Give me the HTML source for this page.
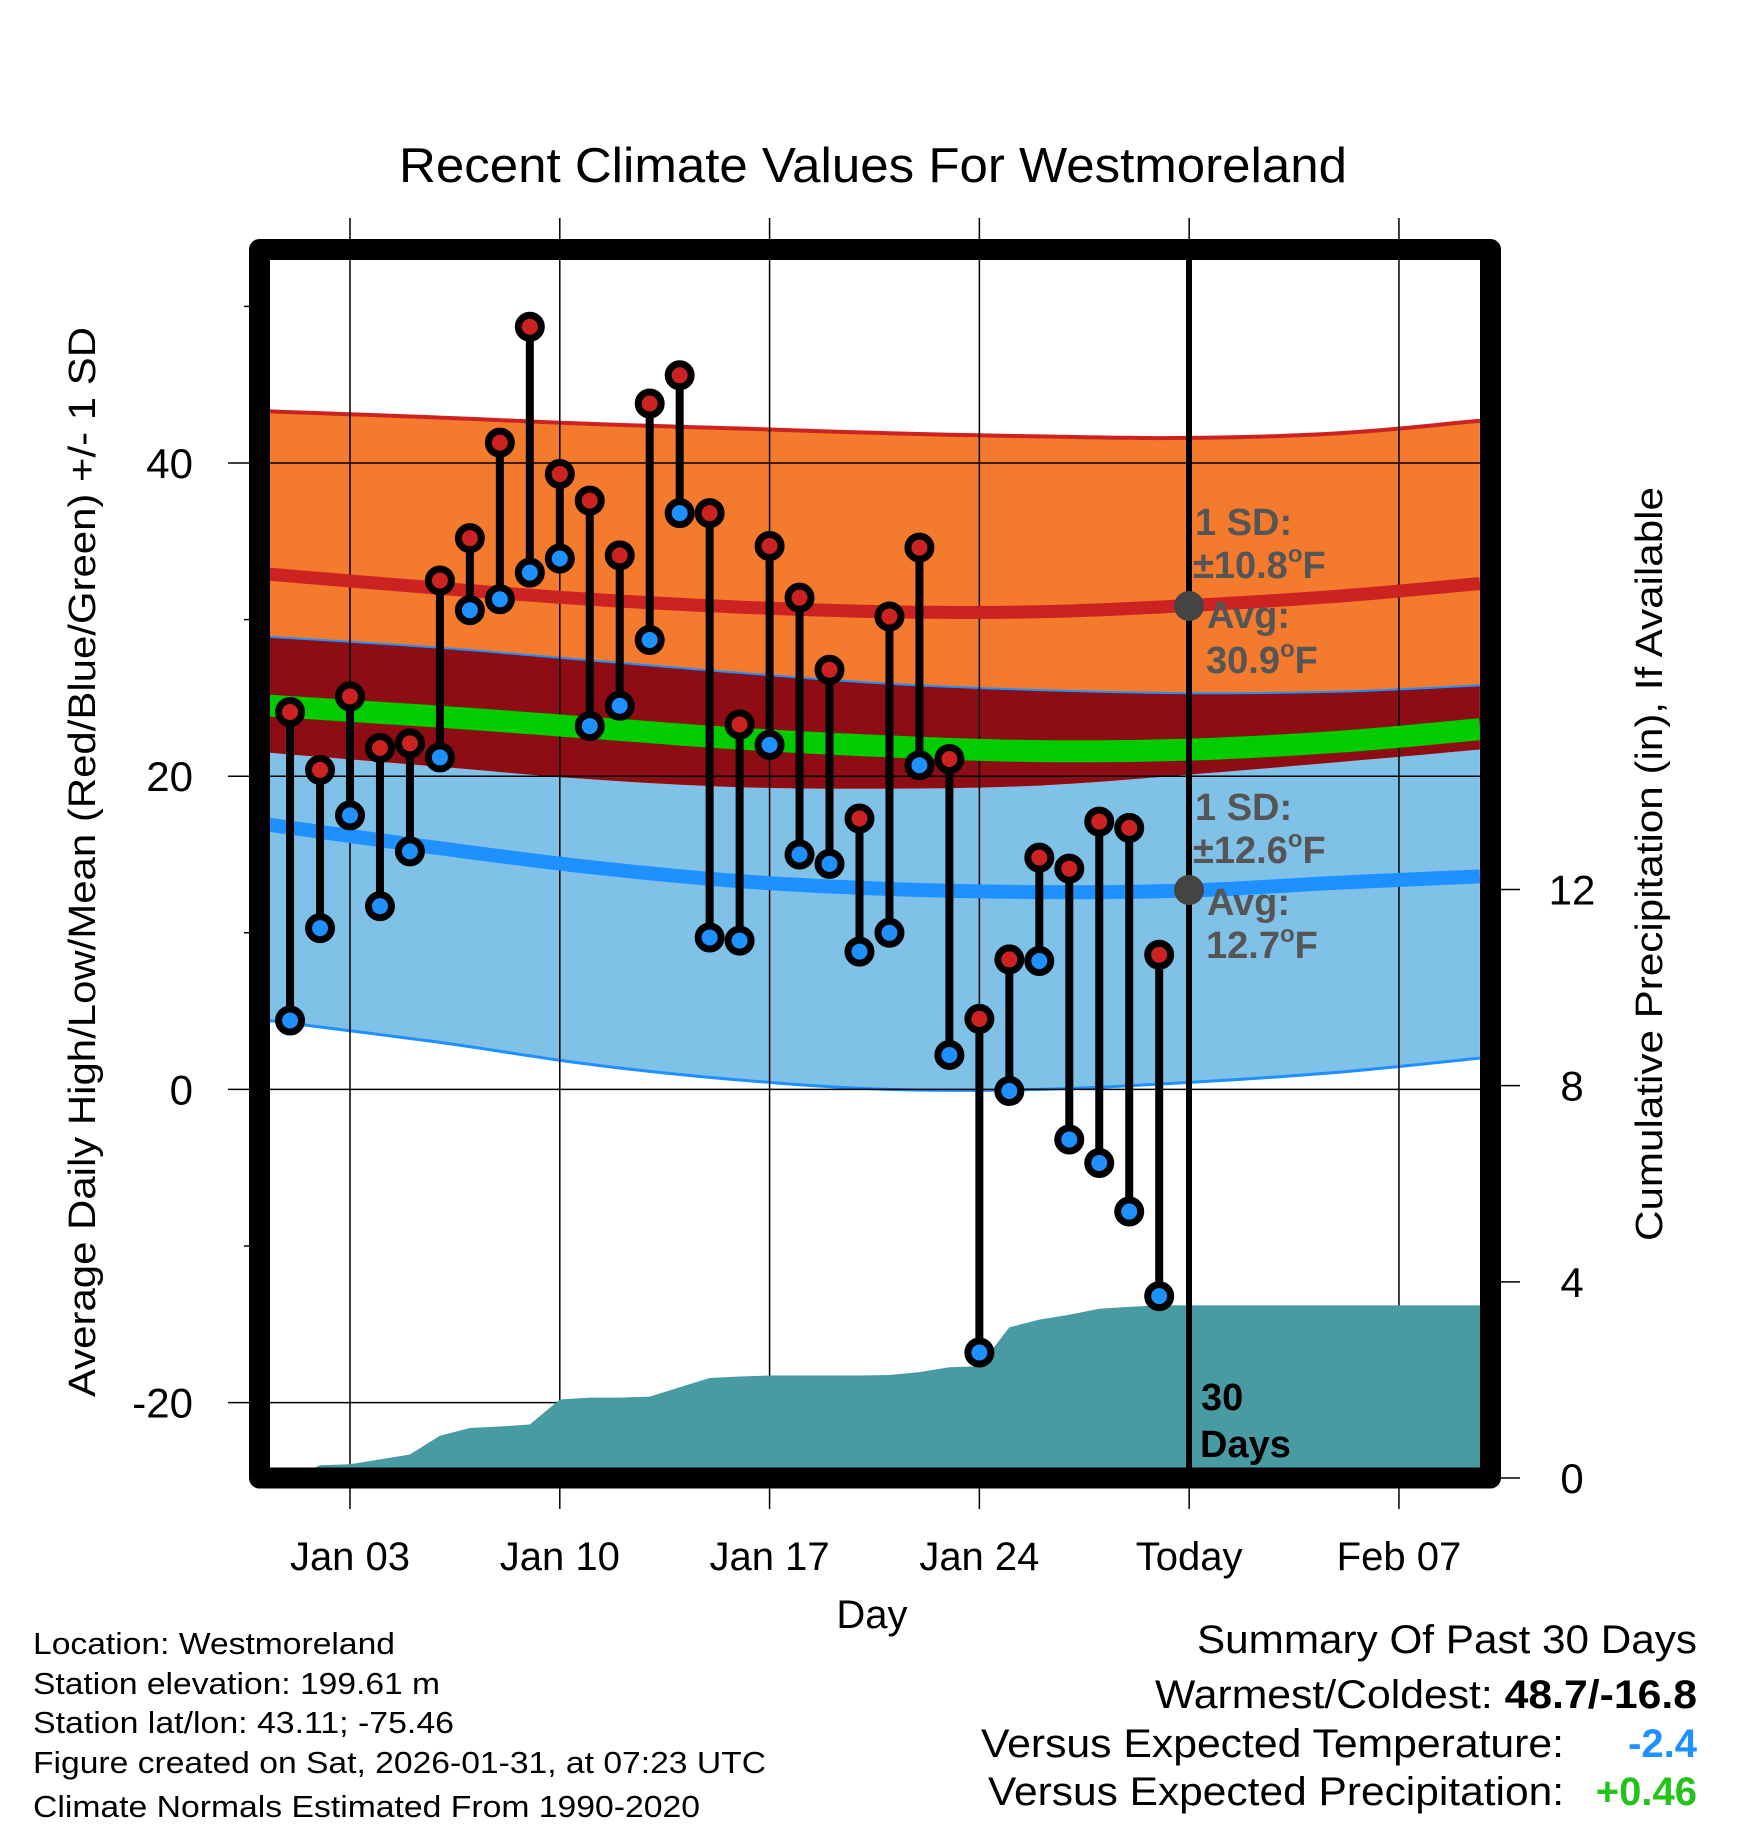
<!DOCTYPE html>
<html><head><meta charset="utf-8">
<style>
html,body{margin:0;padding:0;background:#fff;}
svg{display:block;font-family:"Liberation Sans",Arial,sans-serif;}
</style></head>
<body>
<svg id="chart" width="1748" height="1828" viewBox="0 0 1748 1828" xmlns="http://www.w3.org/2000/svg">
<defs><clipPath id="plotclip"><rect x="270" y="260" width="1210" height="1208"/></clipPath></defs>
<g id="bands" clip-path="url(#plotclip)"></g>
<g id="grid"></g>
<g id="precip" clip-path="url(#plotclip)"></g>
<g id="meanlines" clip-path="url(#plotclip)"></g>
<line x1="1189" y1="260" x2="1189" y2="1468" stroke="#000" stroke-width="6"/>
<g id="stems"></g>
<path d="M259.5,249.5 H1490.5 V1478 H259.5 Z" fill="none" stroke="#000" stroke-width="21" stroke-linejoin="round"/>
<g id="axes"></g>

<text x="873" y="182" font-size="49" text-anchor="middle" textLength="948" lengthAdjust="spacingAndGlyphs">Recent Climate Values For Westmoreland</text>
<text transform="translate(95,862) rotate(-90)" font-size="38" text-anchor="middle" textLength="1070" lengthAdjust="spacingAndGlyphs">Average Daily High/Low/Mean (Red/Blue/Green) +/- 1 SD</text>
<text transform="translate(1662,864) rotate(-90)" font-size="38" text-anchor="middle" textLength="754" lengthAdjust="spacingAndGlyphs">Cumulative Precipitation (in), If Available</text>
<text x="872" y="1628" font-size="40" text-anchor="middle">Day</text>

<g fill="#555" font-weight="bold" font-size="38">
<circle cx="1189" cy="606" r="15" fill="#444"/>
<text x="1195" y="535">1 SD:</text>
<text x="1193" y="578">±10.8<tspan font-size="24" dy="-16">o</tspan><tspan dy="16">F</tspan></text>
<text x="1207" y="628">Avg:</text>
<text x="1206" y="673">30.9<tspan font-size="24" dy="-16">o</tspan><tspan dy="16">F</tspan></text>
</g>
<g fill="#555" font-weight="bold" font-size="38">
<circle cx="1189" cy="890" r="15" fill="#444"/>
<text x="1195" y="820">1 SD:</text>
<text x="1193" y="863">±12.6<tspan font-size="24" dy="-16">o</tspan><tspan dy="16">F</tspan></text>
<text x="1207" y="915">Avg:</text>
<text x="1206" y="958">12.7<tspan font-size="24" dy="-16">o</tspan><tspan dy="16">F</tspan></text>
</g>
<g font-weight="bold" font-size="38" fill="#000">
<text x="1201" y="1410">30</text><text x="1200" y="1457">Days</text>
</g>

<g font-size="31">
<text x="33" y="1654" textLength="362" lengthAdjust="spacingAndGlyphs">Location: Westmoreland</text>
<text x="33" y="1694" textLength="407" lengthAdjust="spacingAndGlyphs">Station elevation: 199.61 m</text>
<text x="33" y="1733" textLength="421" lengthAdjust="spacingAndGlyphs">Station lat/lon: 43.11; -75.46</text>
<text x="33" y="1773" textLength="733" lengthAdjust="spacingAndGlyphs">Figure created on Sat, 2026-01-31, at 07:23 UTC</text>
<text x="33" y="1817" textLength="667" lengthAdjust="spacingAndGlyphs">Climate Normals Estimated From 1990-2020</text>
</g>
<g font-size="40">
<text x="1197" y="1653" textLength="500" lengthAdjust="spacingAndGlyphs">Summary Of Past 30 Days</text>
<text x="1155" y="1708" textLength="542" lengthAdjust="spacingAndGlyphs">Warmest/Coldest: <tspan font-weight="bold">48.7/-16.8</tspan></text>
<text x="981" y="1757" textLength="583" lengthAdjust="spacingAndGlyphs">Versus Expected Temperature:</text>
<text x="1697" y="1757" fill="#1E90FF" font-weight="bold" text-anchor="end">-2.4</text>
<text x="988" y="1805" textLength="576" lengthAdjust="spacingAndGlyphs">Versus Expected Precipitation:</text>
<text x="1697" y="1805" fill="#22C41A" font-weight="bold" text-anchor="end">+0.46</text>
</g>
</svg>
<script>
// ---- data ----
const dayNums = [1,2,3,4,5,6,7,8,9,10,11,12,13,14,15,16,17,18,19,20,21,22,23,24,25,26,27,28,29,30];
const highs = [24.1,20.4,25.1,21.8,22.1,32.5,35.2,41.3,48.7,39.3,37.6,34.1,43.8,45.6,36.8,23.3,34.7,31.4,26.8,17.3,30.2,34.6,21.1,4.5,8.3,14.8,14.1,17.1,16.7,8.6];
const lows = [4.4,10.3,17.5,11.7,15.2,21.2,30.6,31.3,33.0,33.9,23.2,24.5,28.7,36.8,9.7,9.5,22.0,15.0,14.4,8.8,10.0,20.7,2.2,-16.8,-0.1,8.2,-3.2,-4.7,-7.8,-13.2];
const precip = [0.0,0.26,0.28,0.38,0.48,0.86,1.02,1.05,1.09,1.60,1.64,1.64,1.66,1.85,2.04,2.07,2.09,2.09,2.09,2.09,2.10,2.16,2.26,2.28,3.07,3.23,3.33,3.45,3.49,3.52];
const precipEndDay = 41;
const normDays = [0.3,6,11,16,21,26,31,36,40.7];
const hiPlus = [43.3,42.9,42.5,42.2,41.9,41.7,41.6,41.9,42.7];
const hiMean = [32.9,32.0,31.3,30.8,30.5,30.5,30.9,31.5,32.3];
const hiMinus = [28.9,28.2,27.4,26.6,25.9,25.5,25.3,25.4,25.8];
const avgMean = [24.5,23.8,23.1,22.4,21.9,21.6,21.7,22.2,23.0];
const loPlus = [21.5,20.6,19.8,19.3,19.2,19.4,20.1,20.9,21.7];
const loMean = [16.9,15.4,14.2,13.3,12.8,12.6,12.7,13.2,13.6];
const loMinus = [4.4,3.0,1.6,0.6,0.0,0.0,0.45,1.1,2.0];
const tempTicks = [-20,0,20,40];
const tempMinor = [-10,10,30,50];
const precipTicks = [0,4,8,12];
const dateTicks = [3,10,17,24,31,38];
const dateLabels = ["Jan 03","Jan 10","Jan 17","Jan 24","Today","Feb 07"];

// ---- axes functions ----
const NS="http://www.w3.org/2000/svg";
function xS(d){return 350+(d-3)*29.97;}
function yT(v){return 463+(40-v)*15.66;}
function yP(p){return 1478-p*49.04;}
function mk(tag,attrs,parent){const e=document.createElementNS(NS,tag);for(const k in attrs)e.setAttribute(k,attrs[k]);parent.appendChild(e);return e;}

function curvePts(days,vals){
  const p=days.map((d,i)=>[xS(d),yT(vals[i])]);
  const out=[];
  for(let i=0;i<p.length-1;i++){
    const p0=p[Math.max(i-1,0)],p1=p[i],p2=p[i+1],p3=p[Math.min(i+2,p.length-1)];
    for(let t=0;t<1;t+=0.1){
      const t2=t*t,t3=t2*t;
      const f=(a,b,c,d)=>0.5*((2*b)+(-a+c)*t+(2*a-5*b+4*c-d)*t2+(-a+3*b-3*c+d)*t3);
      out.push([f(p0[0],p1[0],p2[0],p3[0]),f(p0[1],p1[1],p2[1],p3[1])]);
    }
  }
  out.push(p[p.length-1]);
  return out;
}
function ptsStr(a){return a.map(q=>q[0].toFixed(1)+","+q[1].toFixed(1)).join(" ");}
function band(top,bot,fill,name,parent){
  const a=curvePts(normDays,top),b=curvePts(normDays,bot).reverse();
  const el=mk('polygon',{points:ptsStr(a.concat(b)),fill:fill},parent);
  
  
}
function line(vals,color,w,name,parent){
  const el=mk('polyline',{points:ptsStr(curvePts(normDays,vals)),fill:'none',stroke:color,'stroke-width':w},parent);
  
  
}

const gB=document.getElementById('bands');
band(hiPlus,hiMinus,'#F47A2E','high-sd-band',gB);
band(loPlus,loMinus,'#80C1E8','low-sd-band',gB);
band(hiMinus,loPlus,'#8E0C14','overlap-band',gB);
line(hiPlus,'#CC2222',4,'high-plus-sd-line',gB);
line(hiMinus,'#1E90FF',2,'high-minus-sd-line',gB);
line(loMinus,'#1E90FF',3,'low-minus-sd-line',gB);

const gG=document.getElementById('grid');
dateTicks.forEach(d=>{
  const el=mk('line',{x1:xS(d),x2:xS(d),y1:218,y2:1509,stroke:'#000','stroke-width':1.5},gG);
  
  
});
tempTicks.forEach(v=>{
  const el=mk('line',{x1:228,x2:1480,y1:yT(v),y2:yT(v),stroke:'#000','stroke-width':1.5},gG);
  
  
});

const gP=document.getElementById('precip');
const pp=dayNums.map((d,i)=>[xS(d),yP(precip[i])]);
pp.push([xS(precipEndDay),yP(precip[precip.length-1])]);
pp.push([xS(precipEndDay),1490]);pp.push([xS(dayNums[0]),1490]);
const pe=mk('polygon',{points:ptsStr(pp),fill:'#489AA3'},gP);



const gM=document.getElementById('meanlines');
line(hiMean,'#CC2222',13,'high-mean-line',gM);
line(avgMean,'#00CC00',22,'mean-line',gM);
line(loMean,'#1E90FF',14,'low-mean-line',gM);

const gS=document.getElementById('stems');
dayNums.forEach((d,i)=>{
  const x=xS(d);
  const s=mk('line',{x1:x,x2:x,y1:yT(highs[i]),y2:yT(lows[i]),stroke:'#000','stroke-width':8},gS);
  
  
});
dayNums.forEach((d,i)=>{
  const x=xS(d);
  const h=mk('circle',{cx:x,cy:yT(highs[i]),r:11.5,fill:'#CC2222',stroke:'#000','stroke-width':7},gS);
  
  
  const l=mk('circle',{cx:x,cy:yT(lows[i]),r:11.5,fill:'#1E90FF',stroke:'#000','stroke-width':7},gS);
  
  
});

const gA=document.getElementById('axes');
tempTicks.forEach(v=>{
  const t=mk('text',{x:193,y:yT(v)+15,'font-size':42,'text-anchor':'end'},gA);
  t.textContent=String(v);
  
  
});
tempMinor.forEach(v=>{
  const t=mk('line',{x1:244,x2:252,y1:yT(v),y2:yT(v),stroke:'#000','stroke-width':1.5},gA);
  
  
});
precipTicks.forEach(p=>{
  const tk=mk('line',{x1:1498,x2:1520,y1:yP(p),y2:yP(p),stroke:'#000','stroke-width':1.5},gA);
  
  
  const t=mk('text',{x:1572,y:yP(p)+15,'font-size':42,'text-anchor':'middle'},gA);
  t.textContent=String(p);
  
  
});
dateTicks.forEach((d,i)=>{
  const t=mk('text',{x:xS(d),y:1570,'font-size':40,'text-anchor':'middle'},gA);
  t.textContent=dateLabels[i];
  
  
});
</script>
</body></html>
